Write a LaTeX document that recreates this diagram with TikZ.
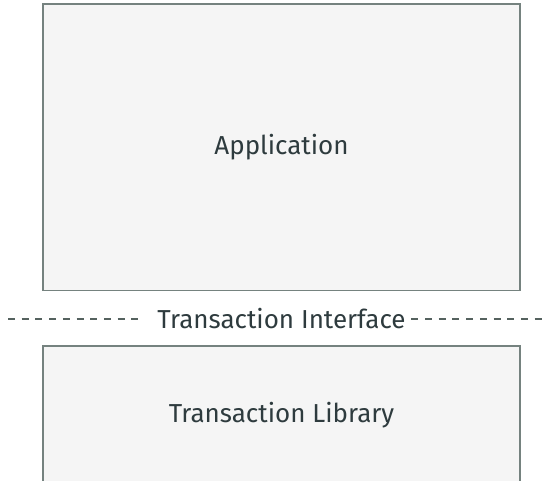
\documentclass[tikz,border=0pt]{standalone}
\usepackage{fontspec}
\setmainfont{Fira Sans}
\usepackage{xcolor}
\usepackage{tikz}
\usetikzlibrary{positioning}
\definecolor{boxgray}{HTML}{F5F5F5}
\definecolor{edgegray}{HTML}{75827F}
\definecolor{dashgray}{HTML}{55625F}
\definecolor{inkslate}{HTML}{2E3B3E}

\begin{document}
\begin{tikzpicture}[x=1pt,y=-1pt,
	line width=1.5pt,
	layer/.style={draw=edgegray,fill=boxgray,inner sep=0pt,outer sep=0pt,minimum width=477pt},
	boundary/.style={dashgray,line width=1.7pt,dash pattern=on 7pt off 6.7pt},
	font=\fontsize{26}{30}\selectfont,
	text=inkslate]
  \useasboundingbox (0,0) rectangle (547,481);
  \node[layer,minimum height=286.5pt] (app) at (281.5,147.25) {Application};
  \node[layer,minimum height=138pt,anchor=north] (lib) at (281.5,346) {Transaction Library};
  \node[inner sep=0pt] (iface) at (281.5,319) {Transaction Interface};
  \coordinate (left) at (8,319);
  \coordinate (right) at (547,319);
  \draw[boundary] (left) -- ([xshift=-12pt]iface.west);
  \draw[boundary] ([xshift=5pt]iface.east) -- (right);
\end{tikzpicture}
\end{document}
